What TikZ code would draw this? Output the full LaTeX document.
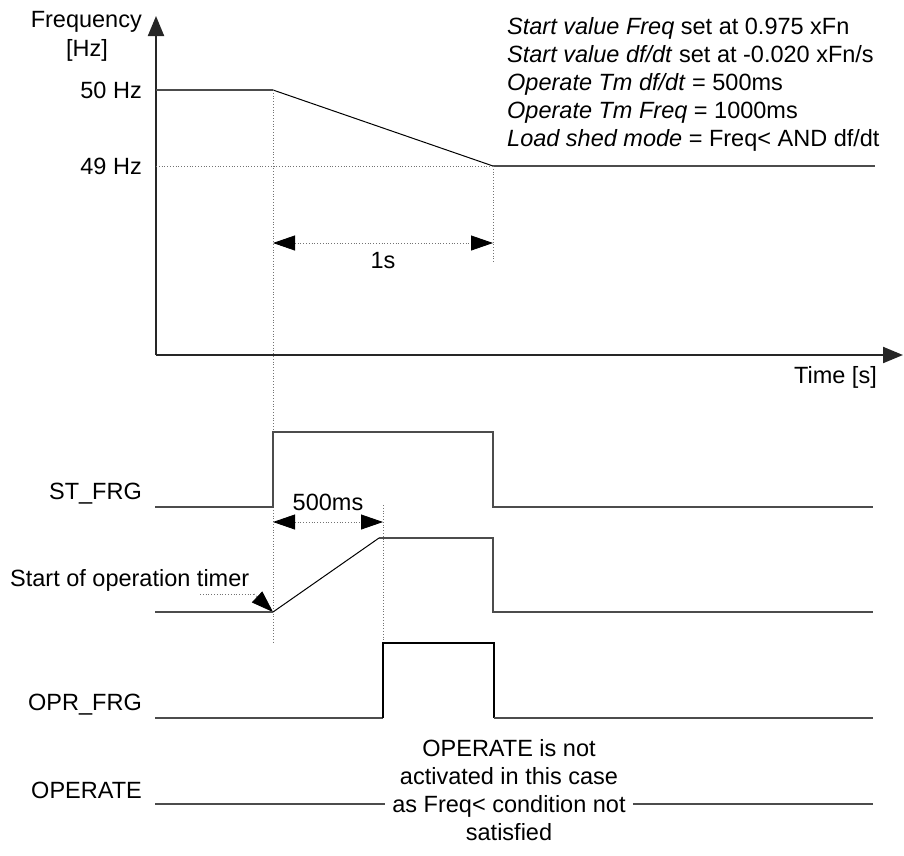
\documentclass[tikz,border=0pt]{standalone}
\usepackage{fontspec}
\setmainfont{Liberation Sans}
\usetikzlibrary{arrows.meta}
\tikzset{mytip/.tip={Triangle[length=22pt,width=15pt,black]}}
\begin{document}
\begin{tikzpicture}[x=1pt,y=-1pt,
  lbl/.style={font=\fontsize{23.5}{28}\selectfont, inner sep=0pt},
  axis/.style={line width=2pt, draw=black!85},
  sig/.style={line width=1.6pt, draw=black!70},
  dots/.style={line width=0.8pt, draw=black!55, dotted},
  dimarr/.style={dots, mytip-mytip},
]
\useasboundingbox (0,0) rectangle (904,855);
% axes
\coordinate (O) at (156,355);
\coordinate (Ytop) at (156,16);
\coordinate (Xend) at (903,355);
\draw[axis,-{Triangle[length=20pt,width=16pt]}] (O) -- (Ytop);
\draw[axis,-{Triangle[length=20pt,width=16pt]}] (O) -- (Xend);
% axis labels
\node[lbl,anchor=base east] (freq) at (142,27) {Frequency};
\node[lbl,anchor=base] (hz) at (87,56) {[Hz]};
\node[lbl,anchor=base east] (f50) at (142,98) {50 Hz};
\node[lbl,anchor=base east] (f49) at (142,174) {49 Hz};
\node[lbl,anchor=base east] (time) at (877,383) {Time [s]};
% settings text
\node[lbl,anchor=north west,align=left] (settings) at (507,17) {%
\textit{Start value Freq} set at 0.975 xFn\\
\textit{Start value df/dt} set at -0.020 xFn/s\\
\textit{Operate Tm df/dt} = 500ms\\
\textit{Operate Tm Freq} = 1000ms\\
\textit{Load shed mode} = Freq< AND df/dt};
% key coordinates
\coordinate (a50) at (156,90);
\coordinate (t0f) at (273,90);
\coordinate (t1f) at (493,166);
\coordinate (a49) at (156,166);
\coordinate (e49) at (875,166);
% frequency curve
\draw[sig] (a50) -- (t0f);
\draw[line width=1pt,black] (t0f) -- (t1f);
\draw[sig] (t1f) -- (e49);
\draw[dots] (a49) -- (t1f);
\coordinate (t0bot) at (273,643);
\draw[dots] (t0f) -- (t0bot);
\coordinate (t1bot) at (493,262);
\draw[dots] (t1f) -- (t1bot);
% 1s dimension
\coordinate (d1a) at (273,243);
\coordinate (d1b) at (493,243);
\draw[dimarr] (d1a) -- (d1b);
\node[lbl,anchor=base] (ones) at (383,268) {1s};
% ST_FRG
\node[lbl,anchor=base east] (stl) at (142,499) {ST\_FRG};
\draw[sig] (155,507) -- (273,507) -- (273,432) -- (493,432) -- (493,507) -- (873,507);
% 500 ms
\node[lbl,anchor=base] (ms) at (328,510) {500ms};
\coordinate (d2a) at (273,522);
\coordinate (d2b) at (383,522);
\draw[dimarr] (d2a) -- (d2b);
\coordinate (t2top) at (383,505);
\coordinate (t2bot) at (383,643);
\draw[dots] (t2top) -- (t2bot);
% timer
\node[lbl,anchor=base west] (sot) at (10,586) {Start of operation timer};
\coordinate (ld0) at (200,594);
\coordinate (ld1) at (254,594);
\coordinate (ldtip) at (273,612);
\draw[dots] (ld0) -- (ld1);
\draw[dots,-mytip] (ld1) -- (ldtip);
\draw[sig] (155,612) -- (273,612);
\draw[line width=1pt,black] (273,612) -- (379,538);
\draw[sig] (379,538) -- (493,538) -- (493,612) -- (873,612);
% OPR_FRG
\node[lbl,anchor=base east] (opl) at (142,710) {OPR\_FRG};
\draw[sig] (155,718) -- (383,718);
\draw[line width=1.6pt,black] (383,718) -- (383,643) -- (494,643) -- (494,718);
\draw[sig] (494,718) -- (873,718);
% OPERATE
\node[lbl,anchor=base east] (oper) at (142,798) {OPERATE};
\node[lbl,align=center,inner xsep=7pt] (note) at (509,790) {OPERATE is not\\activated in this case\\as Freq< condition not\\satisfied};
\coordinate (opL) at (155,804);
\coordinate (opR) at (873,804);
\draw[sig,line width=1.2pt] (opL) -- (opL -| note.west);
\draw[sig,line width=1.2pt] (opR -| note.east) -- (opR);
\end{tikzpicture}
\end{document}
